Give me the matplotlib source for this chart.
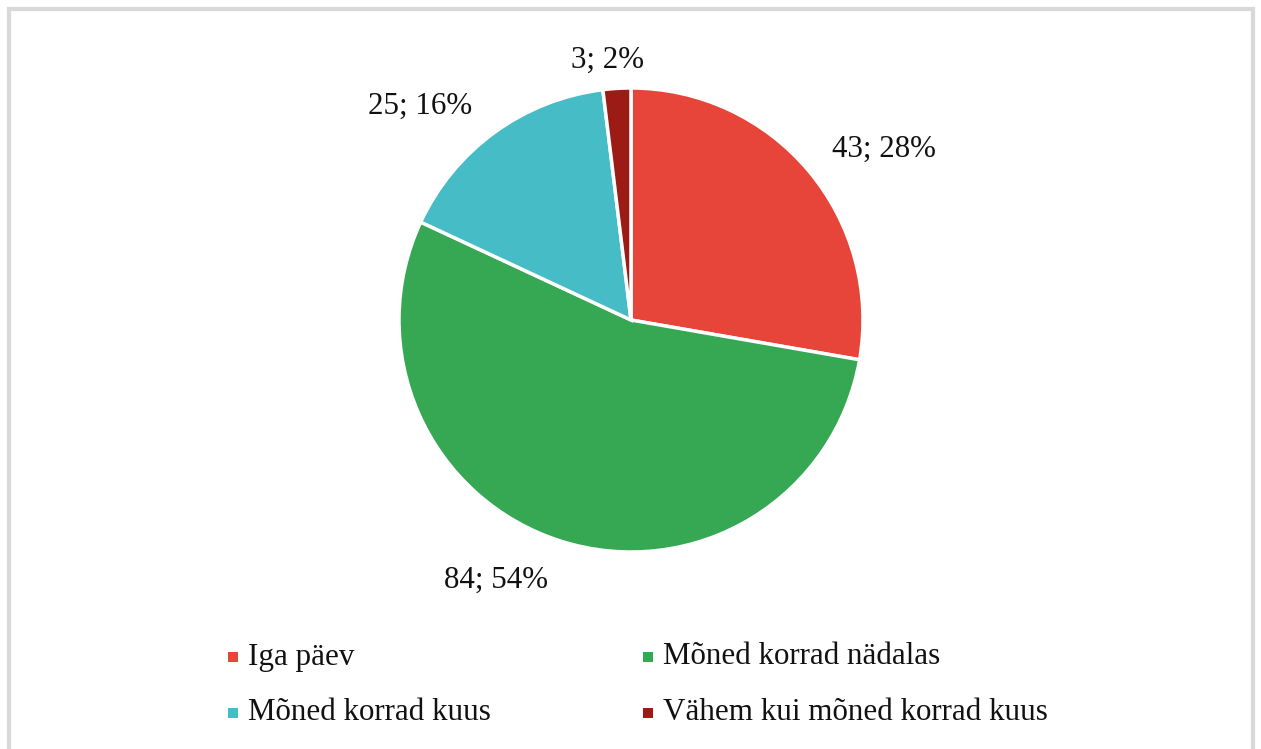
import matplotlib
matplotlib.use("Agg")
import matplotlib.pyplot as plt
from matplotlib.patches import Rectangle

categories = ["Iga päev", "Mõned korrad nädalas", "Mõned korrad kuus", "Vähem kui mõned korrad kuus"]
counts = [43, 84, 25, 3]
colors = ["#E8453A", "#36A854", "#46BCC6", "#9C1B14"]

W, H = 1261, 749
fig = plt.figure(figsize=(W / 100, H / 100), dpi=100)
ax = fig.add_axes([0, 0, 1, 1])

font = dict(family=["Liberation Serif", "DejaVu Serif"], size=22.3, color="#111111")

# chart frame
ax.add_patch(Rectangle((8.5, -5), W - 17, H - 3.5, fill=False, edgecolor="#D9D9D9", lw=3))

cx, cy, r = 631, H - 320, 232
wedges, _ = ax.pie(counts, colors=colors, startangle=90, counterclock=False,
                   center=(cx, cy), radius=r, frame=True,
                   wedgeprops=dict(edgecolor="white", linewidth=2.5))
ax.set_xlim(0, W)
ax.set_ylim(0, H)
ax.set_axis_off()

total = sum(counts)
# label positions as offsets from pie centre, in radius units
label_offsets = [(1.09, 0.735), (-0.58, -1.12), (-0.91, 0.922), (-0.10, 1.12)]
for n, (dx, dy) in zip(counts, label_offsets):
    pct = round(100 * n / total)
    ax.text(cx + dx * r, cy + dy * r, f"{n}; {pct}%", ha="center", va="center", **font)

# legend, two columns filled row by row
col_x = [228, 643]
row_y = [H - 658, H - 714]
for i, (name, col) in enumerate(zip(categories, colors)):
    x = col_x[i % 2]
    y = row_y[i // 2]
    ax.add_patch(Rectangle((x, y - 4), 10, 10, facecolor=col, edgecolor="none"))
    ax.text(x + 20, y + 1, name, ha="left", va="center", **font)

fig.savefig("out.png", dpi=100, facecolor="white")
